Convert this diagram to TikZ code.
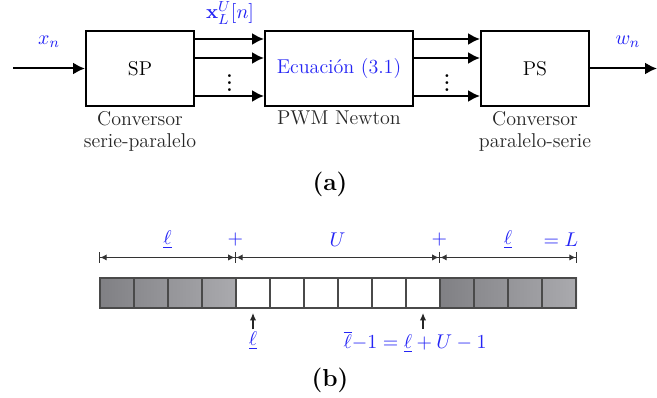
\documentclass[tikz,border=0pt]{standalone}
\usepackage{amsmath}
\usepackage{amssymb}
\usepackage{xcolor}
\definecolor{sigblue}{HTML}{2424F5}
\definecolor{celledge}{HTML}{4A4A4A}
\definecolor{cellgray}{HTML}{808084}
\definecolor{cellgraylt}{HTML}{AAAAAE}
\usepackage{tikz}
\usetikzlibrary{arrows.meta,positioning,calc}
\tikzset{
  blk/.style     = {draw,line width=1.1pt,minimum width=59.4pt,
                     minimum height=41.25pt,align=center,inner sep=0pt},
  sig/.style     = {-{Latex[length=6.5pt,width=6.5pt]},line width=1.1pt},
  sublbl/.style  = {align=center,text=black!85,inner sep=1pt},
  varlbl/.style  = {text=sigblue,inner sep=1pt},
  dots/.style    = {inner sep=0pt,font=\bfseries},
  caplbl/.style  = {font=\fontsize{13.5}{16}\selectfont\bfseries},
  cell/.style    = {draw=celledge,line width=0.6pt,minimum width=18.7pt,
                     minimum height=16.5pt,inner sep=0pt},
  dim/.style     = {{Bar[width=6pt,line width=0.5pt]Latex[length=3.5pt,width=3.5pt]}-{Latex[length=3.5pt,width=3.5pt]Bar[width=6pt,line width=0.5pt]},
                     draw=black!80,line width=0.6pt},
  ptr/.style     = {-{Latex[length=4pt,width=3.5pt]},draw=black!85,line width=0.6pt},
}

\begin{document}
\begin{tikzpicture}[x=0.55pt,y=-0.55pt,font=\fontsize{11}{12.4}\selectfont]
  \useasboundingbox (0,0) rectangle (657,398);

  % (a) block chain
  \node[blk] (sp) at (140,68.5) {SP};
  \node[blk,minimum width=81.4pt,text=sigblue] (ec) at (339,68.5)
        {Ecuaci\'on (3.1)};
  \node[blk] (ps) at (535,68.5) {PS};

  \node[sublbl,below=1pt of sp] {Conversor\\ serie-paralelo};
  \node[sublbl,below=1pt of ec] {PWM Newton};
  \node[sublbl,below=1pt of ps] {Conversor\\ paralelo-serie};

  % input / output
  \coordinate (in) at (13,68.5);
  \coordinate (out) at (657,68.5);
  \draw[sig] (in) -- (sp.west);
  \draw[sig] (ps.east) -- (out);
  \node[varlbl] (xn) at (49,42) {$x_n$};
  \node[varlbl] (wn) at (628,42) {$w_n$};

  % parallel lines
  \foreach \d in {9,28,66} {
    \draw[sig] ($(sp.north east)+(0,\d)$) -- ($(ec.north west)+(0,\d)$);
    \draw[sig] ($(ec.north east)+(0,\d)$) -- ($(ps.north west)+(0,\d)$);
  }
  \node[dots] (dl) at ($(sp.east)!0.5!(ec.west)+(0,9)$) {$\boldsymbol{\vdots}$};
  \node[dots] (dr) at ($(ec.east)!0.5!(ps.west)+(0,9)$) {$\boldsymbol{\vdots}$};
  \node[varlbl] (xv) at (230,13) {$\mathbf{x}_L^U[n]$};

  \node[caplbl] (capa) at (330,184) {(a)};

  % (b) buffer of cells
  \shade[left color=cellgray,right color=cellgraylt] (100,278) rectangle (236,308);
  \shade[left color=cellgray,right color=cellgraylt] (440,278) rectangle (577,308);
  \foreach \i in {0,...,13}
    \node[cell] (c\i) at (117+34*\i,293) {};

  % dimension lines
  \coordinate (d0) at ($(c0.north west)+(0,-20)$);
  \coordinate (d1) at ($(c4.north west)+(0,-20)$);
  \coordinate (d2) at ($(c10.north west)+(0,-20)$);
  \coordinate (d3) at ($(c13.north east)+(0,-20)$);
  \draw[dim] (d0) -- (d1);
  \draw[dim] (d1) -- (d2);
  \draw[dim] (d2) -- (d3);

  \node[varlbl] (l1) at ($(d0)!0.5!(d1)+(0,-18)$) {$\underline{\ell}$};
  \node[varlbl] (p1) at ($(d1)+(0,-18)$) {$+$};
  \node[varlbl] (u)  at ($(d1)!0.5!(d2)+(0,-18)$) {$U$};
  \node[varlbl] (p2) at ($(d2)+(0,-18)$) {$+$};
  \node[varlbl] (l2) at ($(d2)!0.5!(d3)+(0,-18)$) {$\underline{\ell}$};
  \node[varlbl] (eq) at (561,240) {$=L$};

  % index pointers
  \node[varlbl] (lo) at ($(c4.south)+(0,32)$) {$\underline{\ell}$};
  \node[varlbl] (hi) at (415,342) {$\overline{\ell}{-}1=\underline{\ell}+U-1$};
  \draw[ptr] (lo.north) -- ([yshift=-2.5pt]c4.south);
  \draw[ptr] (hi.north -| c9.south) -- ([yshift=-2.5pt]c9.south);

  \node[caplbl] (capb) at (330,380) {(b)};
\end{tikzpicture}
\end{document}
